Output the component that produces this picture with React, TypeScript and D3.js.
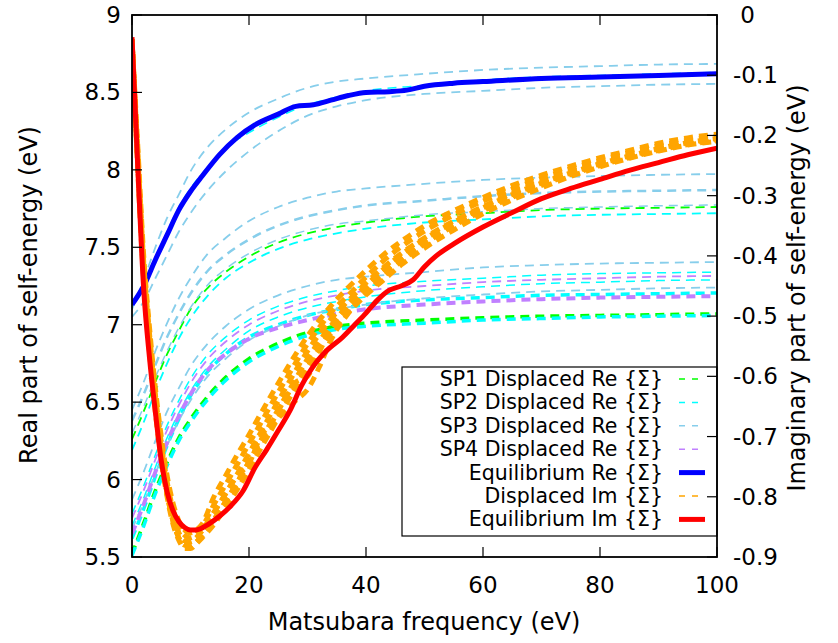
import React from 'react';
import * as d3 from 'd3';

const W = 838, H = 643;
const PL = 132, PR = 717, PT = 15, PB = 557;

const xTicks = [0, 20, 40, 60, 80, 100];
const yLeftTicks = [5.5, 6, 6.5, 7, 7.5, 8, 8.5, 9];
const yRightTicks = [0, -0.1, -0.2, -0.3, -0.4, -0.5, -0.6, -0.7, -0.8, -0.9];

// Shared x grid for displaced real-part curves
const spX = [0, 2, 4, 6, 8, 10, 13, 16, 20, 25, 30, 35, 40, 50, 60, 70, 80, 90, 100];

// SP1 (green)
const sp1Low = [5.52, 5.72, 5.93, 6.11, 6.27, 6.39, 6.54, 6.66, 6.78, 6.88, 6.95, 6.99, 7.01, 7.03, 7.045, 7.055, 7.06, 7.065, 7.07];
const sp1Mid = [6.26, 6.44, 6.63, 6.81, 6.96, 7.10, 7.24, 7.34, 7.44, 7.53, 7.59, 7.63, 7.66, 7.70, 7.72, 7.74, 7.75, 7.755, 7.76];
// SP2 (cyan)
const sp2Mid = [6.19, 6.37, 6.57, 6.75, 6.91, 7.04, 7.19, 7.30, 7.40, 7.49, 7.55, 7.59, 7.62, 7.66, 7.68, 7.70, 7.71, 7.715, 7.72];
const sp2LowA = [5.78, 5.96, 6.16, 6.35, 6.51, 6.65, 6.81, 6.92, 7.03, 7.12, 7.18, 7.22, 7.25, 7.28, 7.30, 7.32, 7.33, 7.335, 7.34];
const sp2LowB = [5.70, 5.88, 6.08, 6.27, 6.43, 6.57, 6.73, 6.84, 6.96, 7.05, 7.11, 7.15, 7.18, 7.22, 7.245, 7.265, 7.275, 7.285, 7.29];
const sp2LowC = [5.62, 5.81, 6.02, 6.22, 6.39, 6.54, 6.70, 6.81, 6.92, 7.00, 7.06, 7.10, 7.13, 7.16, 7.175, 7.19, 7.195, 7.20, 7.205];
const sp2LowD = [5.51, 5.70, 5.91, 6.09, 6.25, 6.37, 6.52, 6.64, 6.76, 6.86, 6.93, 6.97, 6.99, 7.01, 7.03, 7.04, 7.05, 7.055, 7.06];
const sp2Top = [7.12, 7.25, 7.43, 7.60, 7.76, 7.88, 8.02, 8.14, 8.24, 8.34, 8.42, 8.47, 8.51, 8.545, 8.58, 8.60, 8.61, 8.62, 8.63];
// SP3 (skyblue)
const sp3TopA = [7.10, 7.29, 7.50, 7.69, 7.84, 7.99, 8.15, 8.26, 8.37, 8.46, 8.53, 8.57, 8.59, 8.62, 8.645, 8.66, 8.67, 8.68, 8.684];
const sp3TopB = [7.05, 7.15, 7.30, 7.45, 7.60, 7.72, 7.87, 7.99, 8.12, 8.25, 8.35, 8.41, 8.45, 8.49, 8.51, 8.53, 8.54, 8.55, 8.555];
const sp3MidA = [6.45, 6.63, 6.83, 7.01, 7.17, 7.30, 7.46, 7.56, 7.67, 7.76, 7.82, 7.86, 7.88, 7.91, 7.935, 7.95, 7.96, 7.968, 7.973];
const sp3MidB = [6.38, 6.55, 6.74, 6.92, 7.07, 7.20, 7.35, 7.45, 7.55, 7.64, 7.70, 7.74, 7.77, 7.80, 7.83, 7.85, 7.86, 7.865, 7.87];
const sp3MidC = [6.30, 6.47, 6.66, 6.83, 6.98, 7.11, 7.26, 7.36, 7.46, 7.55, 7.61, 7.65, 7.67, 7.71, 7.73, 7.75, 7.76, 7.768, 7.773];
const sp3LowA = [5.87, 6.05, 6.25, 6.44, 6.59, 6.73, 6.88, 6.99, 7.10, 7.19, 7.25, 7.29, 7.31, 7.34, 7.37, 7.385, 7.395, 7.40, 7.405];
const sp3LowB = [5.68, 5.85, 6.04, 6.22, 6.38, 6.51, 6.67, 6.78, 6.90, 6.99, 7.06, 7.10, 7.13, 7.17, 7.195, 7.215, 7.225, 7.235, 7.24];
// SP4 (purple)
const sp4LowA = [5.75, 5.93, 6.13, 6.32, 6.48, 6.62, 6.78, 6.89, 7.00, 7.09, 7.15, 7.19, 7.22, 7.25, 7.275, 7.29, 7.30, 7.31, 7.315];
const sp4LowB = [5.65, 5.84, 6.05, 6.24, 6.41, 6.55, 6.71, 6.81, 6.91, 6.98, 7.03, 7.07, 7.10, 7.13, 7.15, 7.165, 7.175, 7.18, 7.185];

// Equilibrium real part (blue)
const eqReX = [0, 2, 4, 6, 8, 10, 12, 15, 18, 21, 25, 28, 31, 34, 37, 40, 44, 47, 50, 55, 60, 70, 80, 90, 100];
const eqRe = [7.13, 7.25, 7.42, 7.58, 7.74, 7.86, 7.96, 8.10, 8.21, 8.29, 8.36, 8.41, 8.42, 8.45, 8.48, 8.50, 8.505, 8.515, 8.54, 8.56, 8.57, 8.59, 8.60, 8.61, 8.62];

// Displaced imaginary parts (orange)
const imX = [0, 1, 2, 3, 4, 5, 6, 7, 8, 9, 10, 11, 12, 14, 16, 18, 20, 22, 24, 26, 28, 30, 32, 34, 37, 40, 43, 46, 50, 55, 60, 65, 70, 75, 80, 85, 90, 95, 100];
const dispImA = [-0.04, -0.24, -0.42, -0.54, -0.64, -0.72, -0.785, -0.83, -0.86, -0.873, -0.875, -0.868, -0.856, -0.826, -0.795, -0.762, -0.728, -0.693, -0.658, -0.624, -0.59, -0.558, -0.53, -0.505, -0.474, -0.445, -0.419, -0.396, -0.37, -0.342, -0.318, -0.296, -0.277, -0.26, -0.245, -0.232, -0.22, -0.21, -0.204];
const dispImB = [-0.04, -0.23, -0.41, -0.53, -0.63, -0.71, -0.775, -0.82, -0.85, -0.864, -0.868, -0.862, -0.85, -0.813, -0.78, -0.746, -0.712, -0.678, -0.643, -0.61, -0.577, -0.546, -0.519, -0.494, -0.465, -0.435, -0.408, -0.385, -0.359, -0.332, -0.309, -0.289, -0.271, -0.255, -0.241, -0.228, -0.217, -0.208, -0.201];
const dispImC = [-0.04, -0.26, -0.44, -0.56, -0.66, -0.74, -0.80, -0.845, -0.872, -0.886, -0.886, -0.878, -0.868, -0.846, -0.818, -0.788, -0.755, -0.72, -0.686, -0.652, -0.618, -0.585, -0.555, -0.528, -0.494, -0.465, -0.44, -0.415, -0.387, -0.357, -0.33, -0.307, -0.287, -0.268, -0.252, -0.238, -0.226, -0.216, -0.21];
const dispImD = [-0.04, -0.25, -0.43, -0.55, -0.65, -0.73, -0.795, -0.84, -0.868, -0.88, -0.882, -0.875, -0.864, -0.838, -0.808, -0.776, -0.742, -0.707, -0.68, -0.66, -0.64, -0.622, -0.585, -0.54, -0.495, -0.462, -0.434, -0.409, -0.38, -0.35, -0.325, -0.303, -0.283, -0.265, -0.25, -0.237, -0.225, -0.215, -0.209];
const dispImE = [-0.04, -0.25, -0.43, -0.55, -0.65, -0.73, -0.795, -0.84, -0.868, -0.88, -0.882, -0.875, -0.864, -0.838, -0.808, -0.776, -0.742, -0.707, -0.672, -0.638, -0.604, -0.571, -0.542, -0.516, -0.484, -0.454, -0.427, -0.403, -0.376, -0.347, -0.322, -0.30, -0.28, -0.263, -0.248, -0.235, -0.223, -0.213, -0.207];
const dispImF = [-0.04, -0.24, -0.42, -0.54, -0.64, -0.72, -0.785, -0.83, -0.86, -0.873, -0.875, -0.868, -0.856, -0.826, -0.795, -0.765, -0.745, -0.70, -0.675, -0.64, -0.61, -0.60, -0.56, -0.52, -0.48, -0.449, -0.422, -0.398, -0.372, -0.344, -0.32, -0.298, -0.279, -0.262, -0.247, -0.234, -0.222, -0.212, -0.205];
const dispImG = [-0.04, -0.22, -0.40, -0.52, -0.62, -0.70, -0.765, -0.81, -0.84, -0.855, -0.86, -0.855, -0.845, -0.80, -0.765, -0.73, -0.697, -0.662, -0.628, -0.595, -0.563, -0.533, -0.507, -0.483, -0.452, -0.424, -0.398, -0.376, -0.35, -0.325, -0.303, -0.283, -0.266, -0.251, -0.237, -0.225, -0.213, -0.204, -0.198];

// Equilibrium imaginary part (red)
const eqImX = [0, 1, 2, 3, 4, 5, 6, 7, 8, 9, 10, 11, 13, 15, 17, 19, 21, 23, 25, 27, 29, 31, 33, 36, 38, 40, 42, 44, 46, 48, 50, 52, 55, 60, 65, 70, 75, 80, 85, 90, 95, 100];
const eqIm = [-0.037, -0.255, -0.455, -0.57, -0.66, -0.74, -0.792, -0.823, -0.841, -0.851, -0.855, -0.855, -0.846, -0.832, -0.814, -0.79, -0.752, -0.722, -0.69, -0.657, -0.615, -0.583, -0.56, -0.535, -0.515, -0.495, -0.473, -0.457, -0.45, -0.44, -0.418, -0.40, -0.38, -0.352, -0.328, -0.305, -0.288, -0.273, -0.258, -0.245, -0.232, -0.221];

const legendLabels = [
  'SP1 Displaced Re {Σ}',
  'SP2 Displaced Re {Σ}',
  'SP3 Displaced Re {Σ}',
  'SP4 Displaced Re {Σ}',
  'Equilibrium Re {Σ}',
  'Displaced Im {Σ}',
  'Equilibrium Im {Σ}',
];

const GREEN = '#00ff00', CYAN = '#00ffff', SKY = '#87ceeb', PURPLE = '#c080ff';
const BLUE = '#0000ff', ORANGE = '#ffa500', RED = '#ff0000';
const DASH = '9,6';
const FONT = 'DejaVu Sans, sans-serif';

export default function App() {
  const x = d3.scaleLinear().domain([0, 100]).range([PL, PR]);
  const yL = d3.scaleLinear().domain([5.5, 9]).range([PB, PT]);
  const yR = d3.scaleLinear().domain([-0.9, 0]).range([PB, PT]);

  const mk = (xs: number[], ys: number[], yScale: d3.ScaleLinear<number, number>) =>
    d3.line<number>().x((_, i) => x(xs[i])).y((v) => yScale(v)).curve(d3.curveMonotoneX)(ys) || '';

  const reLines: { d: number[]; c: string; w: number }[] = [
    { d: sp1Low, c: GREEN, w: 3.5 },
    { d: sp1Mid, c: GREEN, w: 1.8 },
    { d: sp2Mid, c: CYAN, w: 1.8 },
    { d: sp2LowA, c: CYAN, w: 1.5 },
    { d: sp2LowB, c: CYAN, w: 1.5 },
    { d: sp2LowC, c: CYAN, w: 3.5 },
    { d: sp2LowD, c: CYAN, w: 3.5 },
    { d: sp2Top, c: CYAN, w: 1.5 },
    { d: sp3TopA, c: SKY, w: 1.8 },
    { d: sp3TopB, c: SKY, w: 1.8 },
    { d: sp3MidA, c: SKY, w: 1.8 },
    { d: sp3MidB, c: SKY, w: 2.5 },
    { d: sp3MidC, c: SKY, w: 1.5 },
    { d: sp3LowA, c: SKY, w: 1.8 },
    { d: sp3LowB, c: SKY, w: 1.8 },
    { d: sp4LowA, c: PURPLE, w: 1.8 },
    { d: sp4LowB, c: PURPLE, w: 4 },
  ];
  const imLines = [dispImD, dispImF, dispImC, dispImE, dispImA, dispImB, dispImG];

  const rowY = (i: number) => 379 + i * 23.4;
  const legendStyles = [
    { c: GREEN, w: 1.5, dash: true },
    { c: CYAN, w: 1.5, dash: true },
    { c: SKY, w: 1.5, dash: true },
    { c: PURPLE, w: 1.5, dash: true },
    { c: BLUE, w: 5, dash: false },
    { c: ORANGE, w: 1.5, dash: true },
    { c: RED, w: 5, dash: false },
  ];

  const fmtR = (v: number) => (v === 0 ? '\u00a00' : d3.format('.1f')(v).replace('−', '-'));

  return (
    <svg width={W} height={H} style={{ position: 'absolute', left: 0, top: 0, background: '#fff' }} fontFamily={FONT}>
      <rect x={0} y={0} width={W} height={H} fill="#fff" />
      <defs>
        <clipPath id="plotclip">
          <rect x={PL} y={PT} width={PR - PL} height={PB - PT} />
        </clipPath>
      </defs>
      <g clipPath="url(#plotclip)">
        {reLines.map((l, i) => (
          <path key={'re' + i} d={mk(spX, l.d, yL)} fill="none" stroke={l.c} strokeWidth={l.w} strokeDasharray={DASH} />
        ))}
        <path d={mk(eqReX, eqRe, yL)} fill="none" stroke={BLUE} strokeWidth={5} />
        {imLines.map((l, i) => (
          <path key={'im' + i} d={mk(imX, l, yR)} fill="none" stroke={ORANGE} strokeWidth={5} strokeDasharray={DASH} strokeDashoffset={i * 5} />
        ))}
        <path d={mk(eqImX, eqIm, yR)} fill="none" stroke={RED} strokeWidth={5} />
      </g>

      {/* legend */}
      <rect x={402} y={367} width={PR - 402} height={169} fill="#fff" stroke="#000" strokeWidth={1.2} />
      {legendLabels.map((t, i) => (
        <g key={'lg' + i}>
          <text x={663} y={rowY(i) + 7} textAnchor="end" fontSize={20.5} fill="#000">{t}</text>
          <line x1={679} x2={705} y1={rowY(i)} y2={rowY(i)} stroke={legendStyles[i].c} strokeWidth={legendStyles[i].w}
            strokeDasharray={legendStyles[i].dash ? '6,7' : undefined} />
        </g>
      ))}

      {/* frame */}
      <rect x={PL} y={PT} width={PR - PL} height={PB - PT} fill="none" stroke="#000" strokeWidth={1.8} />

      {/* x ticks */}
      {xTicks.map((t) => (
        <g key={'xt' + t}>
          <line x1={x(t)} x2={x(t)} y1={PB} y2={PB - 10} stroke="#000" strokeWidth={1.2} />
          <line x1={x(t)} x2={x(t)} y1={PT} y2={PT + 10} stroke="#000" strokeWidth={1.2} />
          <text x={x(t)} y={593} textAnchor="middle" fontSize={23} fill="#000">{t}</text>
        </g>
      ))}
      {yLeftTicks.map((t) => (
        <g key={'yl' + t}>
          <line x1={PL} x2={PL + 10} y1={yL(t)} y2={yL(t)} stroke="#000" strokeWidth={1.2} />
          <text x={121} y={yL(t) + 8} textAnchor="end" fontSize={23} fill="#000">{t}</text>
        </g>
      ))}
      {yRightTicks.map((t) => (
        <g key={'yr' + t}>
          <line x1={PR} x2={PR - 10} y1={yR(t)} y2={yR(t)} stroke="#000" strokeWidth={1.2} />
          <text x={733} y={yR(t) + 8} textAnchor="start" fontSize={23} fill="#000">{fmtR(t)}</text>
        </g>
      ))}

      <text x={424} y={630} textAnchor="middle" fontSize={24} fill="#000">Matsubara frequency (eV)</text>
      <text transform={`translate(37,295) rotate(-90)`} textAnchor="middle" fontSize={24} fill="#000">Real part of self-energy (eV)</text>
      <text transform={`translate(805,288) rotate(-90)`} textAnchor="middle" fontSize={24} fill="#000">Imaginary part of self-energy (eV)</text>
    </svg>
  );
}
